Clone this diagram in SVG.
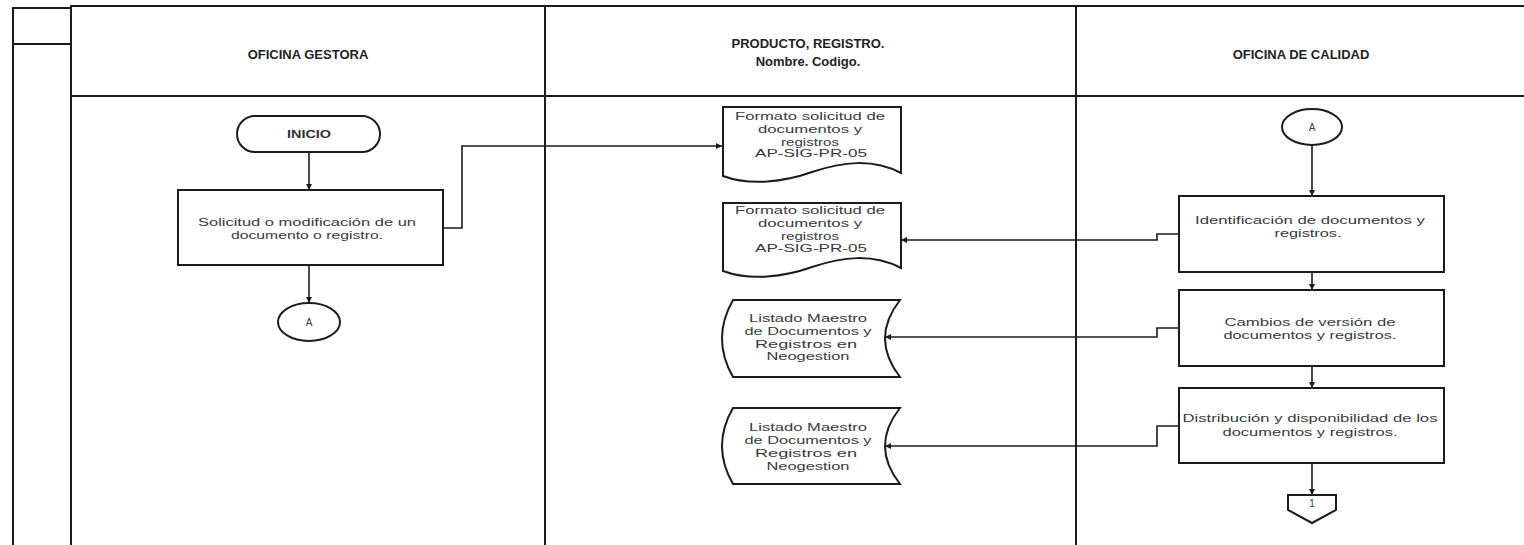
<svg xmlns="http://www.w3.org/2000/svg" width="1524" height="545" viewBox="0 0 1524 545">
<style>
.ln{stroke:#1c1c1c;stroke-width:2;fill:none}
.sh{stroke:#1c1c1c;stroke-width:2;fill:#fff}
.cn{stroke:#1c1c1c;stroke-width:1.6;fill:none}
.hd{font-family:"Liberation Sans",Arial,sans-serif;font-size:13px;font-weight:bold;fill:#222;text-anchor:middle}
.tx{font-family:"Liberation Sans",Arial,sans-serif;font-size:10px;fill:#3a3a3a;text-anchor:middle}
.bt{font-family:"Liberation Sans",Arial,sans-serif;font-size:10px;font-weight:bold;fill:#333;text-anchor:middle}
</style>
<defs>
<marker id="arr" viewBox="0 0 10 10" refX="10" refY="5" markerWidth="6" markerHeight="6" orient="auto" markerUnits="userSpaceOnUse">
<path d="M0,0 L10,5 L0,10 Z" fill="#1c1c1c"/>
</marker>
</defs>
<rect width="1524" height="545" fill="#fff"/>
<g id="frame">
<path class="ln" d="M13,545 V8 H71 M13,44 H71 M71,545 V6 H1524 M71,96 H1524 M545,6 V545 M1076,6 V545"/>
<text class="hd" x="308" y="59">OFICINA GESTORA</text>
<text class="hd" x="808" y="48">PRODUCTO, REGISTRO.</text>
<text class="hd" x="808" y="66">Nombre. Codigo.</text>
<text class="hd" x="1301" y="59">OFICINA DE CALIDAD</text>
</g>
<g id="connectors">
<path class="cn" d="M309,152 V190" marker-end="url(#arr)"/>
<path class="cn" d="M309,265 V303" marker-end="url(#arr)"/>
<path class="cn" d="M443,228 H462 V146 H722" marker-end="url(#arr)"/>
<path class="cn" d="M1312,145 V196" marker-end="url(#arr)"/>
<path class="cn" d="M1312,272 V290" marker-end="url(#arr)"/>
<path class="cn" d="M1312,366 V388" marker-end="url(#arr)"/>
<path class="cn" d="M1312,463 V495" marker-end="url(#arr)"/>
<path class="cn" d="M1179,234 H1157 V240 H901" marker-end="url(#arr)"/>
<path class="cn" d="M1179,328 H1157 V337 H885" marker-end="url(#arr)"/>
<path class="cn" d="M1179,426 H1157 V446 H885" marker-end="url(#arr)"/>
</g>
<g id="inicio">
<rect class="sh" x="237" y="116" width="143" height="36" rx="18"/>
<text class="bt" x="309" y="138" textLength="44" lengthAdjust="spacingAndGlyphs">INICIO</text>
</g>
<g id="solicitud">
<rect class="sh" x="178" y="190" width="265" height="75"/>
<text class="tx" x="307" y="226" textLength="218" lengthAdjust="spacingAndGlyphs">Solicitud o modificación de un</text>
<text class="tx" x="307" y="239" textLength="152" lengthAdjust="spacingAndGlyphs">documento o registro.</text>
</g>
<g id="conectorA1">
<ellipse class="sh" cx="309" cy="322" rx="31" ry="19"/>
<text class="tx" x="309" y="326" font-size="9">A</text>
</g>
<g id="formato1">
<path class="sh" d="M723,107 H901 V173 C872,158 842,162 812,172 C784,182 750,186 723,176 Z"/>
<text class="tx" x="810" y="120" textLength="150" lengthAdjust="spacingAndGlyphs">Formato solicitud de</text>
<text class="tx" x="810" y="133" textLength="104" lengthAdjust="spacingAndGlyphs">documentos y</text>
<text class="tx" x="810" y="146" textLength="58" lengthAdjust="spacingAndGlyphs">registros</text>
<text class="tx" x="811" y="157" textLength="112" lengthAdjust="spacingAndGlyphs">AP-SIG-PR-05</text>
</g>
<g id="formato2">
<path class="sh" d="M723,203 H901 V268 C872,253 842,257 812,267 C784,277 750,281 723,271 Z"/>
<text class="tx" x="810" y="214" textLength="150" lengthAdjust="spacingAndGlyphs">Formato solicitud de</text>
<text class="tx" x="810" y="227" textLength="104" lengthAdjust="spacingAndGlyphs">documentos y</text>
<text class="tx" x="810" y="240" textLength="58" lengthAdjust="spacingAndGlyphs">registros</text>
<text class="tx" x="811" y="252" textLength="112" lengthAdjust="spacingAndGlyphs">AP-SIG-PR-05</text>
</g>
<g id="listado1">
<path class="sh" d="M733,300 H900 Q870,338.5 900,377 H733 Q711,338.5 733,300 Z"/>
<text class="tx" x="808" y="322" textLength="118" lengthAdjust="spacingAndGlyphs">Listado Maestro</text>
<text class="tx" x="808" y="335" textLength="127" lengthAdjust="spacingAndGlyphs">de Documentos y</text>
<text class="tx" x="806" y="348" textLength="102" lengthAdjust="spacingAndGlyphs">Registros en</text>
<text class="tx" x="808" y="360" textLength="83" lengthAdjust="spacingAndGlyphs">Neogestion</text>
</g>
<g id="listado2">
<path class="sh" d="M733,408 H900 Q870,446 900,484 H733 Q711,446 733,408 Z"/>
<text class="tx" x="808" y="431" textLength="118" lengthAdjust="spacingAndGlyphs">Listado Maestro</text>
<text class="tx" x="808" y="444" textLength="127" lengthAdjust="spacingAndGlyphs">de Documentos y</text>
<text class="tx" x="806" y="457" textLength="102" lengthAdjust="spacingAndGlyphs">Registros en</text>
<text class="tx" x="808" y="470" textLength="83" lengthAdjust="spacingAndGlyphs">Neogestion</text>
</g>
<g id="conectorA2">
<ellipse class="sh" cx="1312" cy="127" rx="30" ry="18"/>
<text class="tx" x="1312" y="131" font-size="9">A</text>
</g>
<g id="identificacion">
<rect class="sh" x="1179" y="196" width="265" height="76"/>
<text class="tx" x="1310" y="224" textLength="230" lengthAdjust="spacingAndGlyphs">Identificación de documentos y</text>
<text class="tx" x="1308" y="237" textLength="67" lengthAdjust="spacingAndGlyphs">registros.</text>
</g>
<g id="cambios">
<rect class="sh" x="1179" y="290" width="265" height="76"/>
<text class="tx" x="1310" y="326" textLength="171" lengthAdjust="spacingAndGlyphs">Cambios de versión de</text>
<text class="tx" x="1310" y="339" textLength="173" lengthAdjust="spacingAndGlyphs">documentos y registros.</text>
</g>
<g id="distribucion">
<rect class="sh" x="1179" y="388" width="265" height="75"/>
<text class="tx" x="1310" y="422" textLength="255" lengthAdjust="spacingAndGlyphs">Distribución y disponibilidad de los</text>
<text class="tx" x="1310" y="436" textLength="175" lengthAdjust="spacingAndGlyphs">documentos y registros.</text>
</g>
<g id="conector1">
<path class="sh" d="M1288,495 H1336 V510 L1312,523 L1288,510 Z"/>
<text class="tx" x="1312" y="507" font-size="8">1</text>
</g>
</svg>
